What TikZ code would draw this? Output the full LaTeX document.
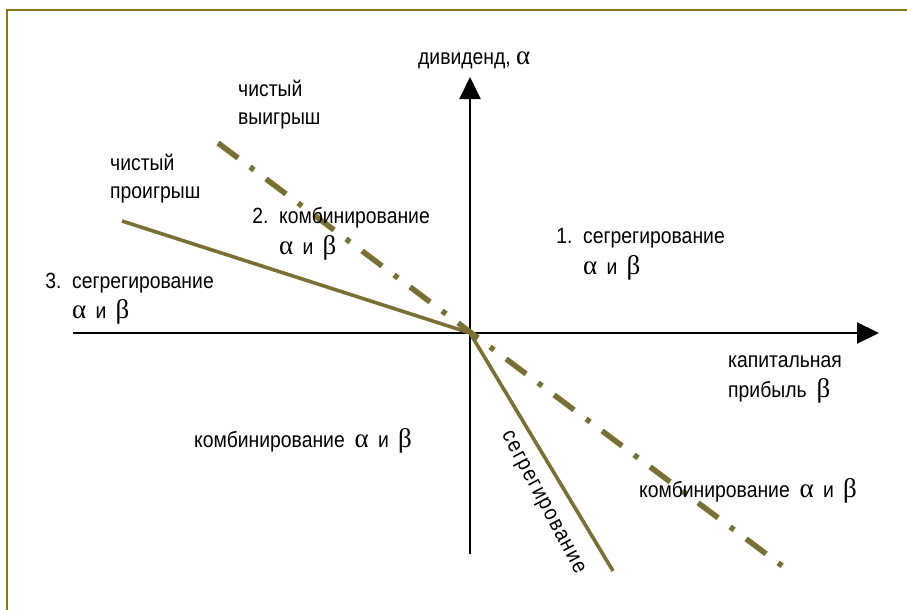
\documentclass[tikz,border=0pt]{standalone}
\usepackage{fontspec}
\setmainfont[FakeStretch=0.88]{Liberation Sans}
\newfontfamily\grk{Liberation Serif}
\usepackage{xcolor}
\usetikzlibrary{arrows.meta, positioning}
\definecolor{lineolive}{RGB}{122,112,52}
\definecolor{framegold}{RGB}{138,118,28}
\newcommand{\alf}{{\grk\fontsize{27}{30}\selectfont α}}
\newcommand{\bet}{{\grk\fontsize{27}{30}\selectfont β}}
\newcommand{\ab}{\alf\hspace{0.42em}и\hspace{0.42em}\bet}

\begin{document}
\begin{tikzpicture}[x=1pt, y=-1pt, font=\fontsize{22}{26}\selectfont,
  lbl/.style={anchor=base west, inner sep=0pt},
  axis/.style={line width=2.2pt, -{Triangle[length=22pt,width=21pt]}},
  solidline/.style={lineolive, line width=3.6pt},
  dashdotline/.style={lineolive, line width=5.5pt, dash pattern=on 25pt off 15pt on 5pt off 15pt}]
  \useasboundingbox (0,0) rectangle (907,610);

  % Frame
  \draw[framegold, line width=2pt] (907,10) -- (7,10) -- (7,610);

  % Axes
  \coordinate (O) at (470,333);
  \coordinate (xL) at (73,333);
  \coordinate (xR) at (879,333);
  \coordinate (yB) at (470,554);
  \coordinate (yT) at (470,77);
  \draw[axis] (xL) -- (xR);
  \draw[axis] (yB) -- (yT);

  % Lines through the origin
  \coordinate (lossEnd) at (122,221);
  \coordinate (segEnd) at (613,571);
  \coordinate (gainEnd) at (218,143);
  \coordinate (combEnd) at (785,568);
  \draw[solidline] (lossEnd) -- (O) -- (segEnd);
  \draw[dashdotline] (gainEnd) -- (combEnd);

  % Axis labels
  \node[lbl] (divLbl) at (418,64) {дивиденд,\ \alf};
  \node[lbl] (capLbl) at (728,367) {капитальная};
  \node[lbl] (profLbl) at (728,397) {прибыль\hspace{0.45em}\bet};

  % Region labels
  \node[lbl] (gainA) at (238,96) {чистый};
  \node[lbl] (gainB) at (238,124) {выигрыш};
  \node[lbl] (lossA) at (110,170) {чистый};
  \node[lbl] (lossB) at (110,198) {проигрыш};

  \node[lbl] (twoA) at (279,223) {\llap{2.\ \ }комбинирование};
  \node[lbl] (twoB) at (279,254) {\ab};
  \node[lbl] (oneA) at (583,243) {\llap{1.\ \ }сегрегирование};
  \node[lbl] (oneB) at (583,274) {\ab};
  \node[lbl] (threeA) at (72,288) {\llap{3.\ \ }сегрегирование};
  \node[lbl] (threeB) at (72,318) {\ab};

  \node[lbl] (combLeft) at (194,447) {комбинирование\hspace{0.45em}\ab};
  \node[lbl] (combRight) at (639,497) {комбинирование\hspace{0.45em}\ab};
  \node[inner sep=0pt, rotate=-62] (segLbl) at (542,503)
    {\addfontfeature{LetterSpace=6}сегрегирование};
\end{tikzpicture}
\end{document}
